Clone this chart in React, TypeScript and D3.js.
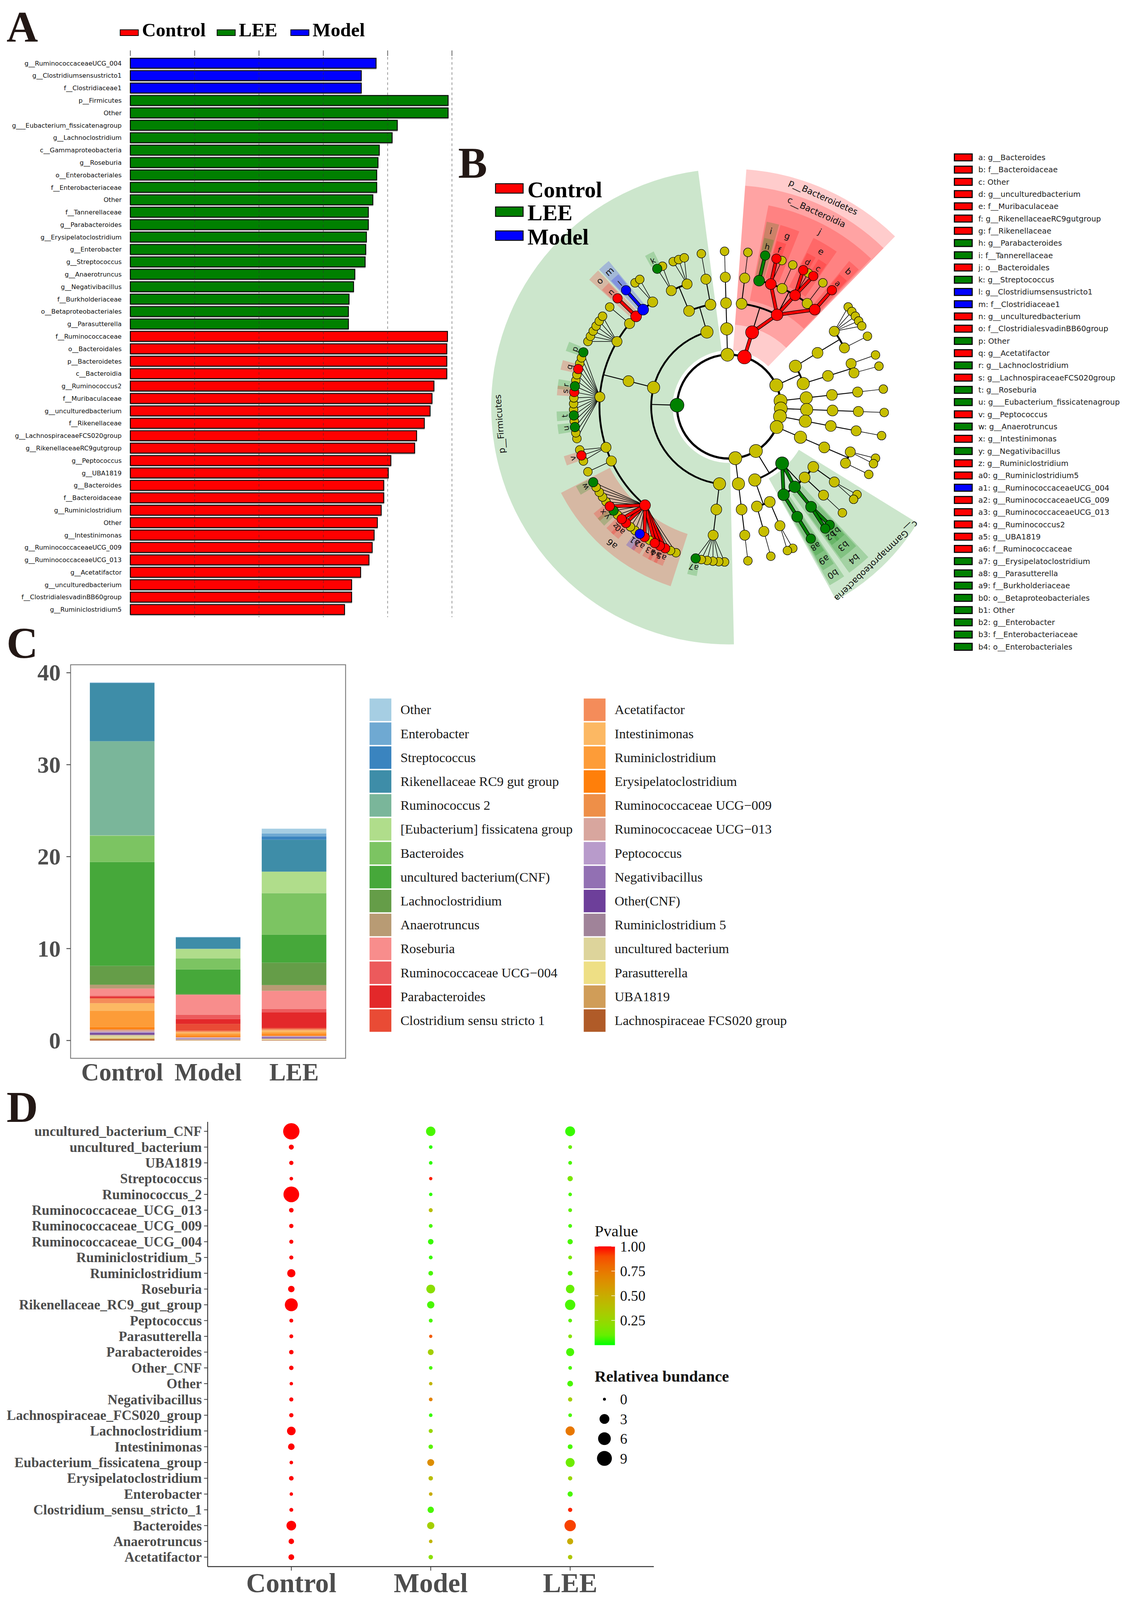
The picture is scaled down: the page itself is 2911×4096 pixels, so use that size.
import { useEffect, useRef } from "react"
import * as d3 from "d3"

const SERIF = "'Liberation Serif', 'Times New Roman', serif"
const SANS = "'DejaVu Sans', Verdana, sans-serif"
const INK = "#231815"

const groupNames = ["Control", "LEE", "Model"]
const groupColors = ["#FF0000", "#008000", "#0000FF"]
const colorOf = (g: string) => groupColors[groupNames.indexOf(g)]

// ---------- A: LDA bars ----------
const ldaTaxa = [
  "g__RuminococcaceaeUCG_004", "g__Clostridiumsensustricto1", "f__Clostridiaceae1",
  "p__Firmicutes", "Other", "g___Eubacterium_fissicatenagroup", "g__Lachnoclostridium",
  "c__Gammaproteobacteria", "g__Roseburia", "o__Enterobacteriales", "f__Enterobacteriaceae",
  "Other", "f__Tannerellaceae", "g__Parabacteroides", "g__Erysipelatoclostridium",
  "g__Enterobacter", "g__Streptococcus", "g__Anaerotruncus", "g__Negativibacillus",
  "f__Burkholderiaceae", "o__Betaproteobacteriales", "g__Parasutterella",
  "f__Ruminococcaceae", "o__Bacteroidales", "p__Bacteroidetes", "c__Bacteroidia",
  "g__Ruminococcus2", "f__Muribaculaceae", "g__unculturedbacterium", "f__Rikenellaceae",
  "g__LachnospiraceaeFCS020group", "g__RikenellaceaeRC9gutgroup", "g__Peptococcus",
  "g__UBA1819", "g__Bacteroides", "f__Bacteroidaceae", "g__Ruminiclostridium", "Other",
  "g__Intestinimonas", "g__RuminococcaceaeUCG_009", "g__RuminococcaceaeUCG_013",
  "g__Acetatifactor", "g__unculturedbacterium", "f__ClostridialesvadinBB60group",
  "g__Ruminiclostridium5",
]
const ldaScore = [
  3.82, 3.59, 3.59,
  4.94, 4.94, 4.15, 4.07, 3.87, 3.85, 3.83, 3.83, 3.77, 3.70, 3.70, 3.67, 3.66, 3.65, 3.49, 3.47, 3.40, 3.39, 3.39,
  4.93, 4.92, 4.92, 4.92, 4.72, 4.69, 4.66, 4.57, 4.45, 4.42, 4.05, 4.01, 3.94, 3.94, 3.90, 3.84, 3.79, 3.76, 3.71,
  3.58, 3.44, 3.44, 3.33,
]
const ldaGroup = [
  "Model", "Model", "Model",
  "LEE", "LEE", "LEE", "LEE", "LEE", "LEE", "LEE", "LEE", "LEE", "LEE", "LEE", "LEE", "LEE", "LEE", "LEE", "LEE",
  "LEE", "LEE", "LEE",
  "Control", "Control", "Control", "Control", "Control", "Control", "Control", "Control", "Control", "Control",
  "Control", "Control", "Control", "Control", "Control", "Control", "Control", "Control", "Control", "Control",
  "Control", "Control", "Control",
]
const ldaTicks = [0, 1, 2, 3, 4, 5]

// ---------- B: cladogram ----------
const cladeFamilies: [string, string[]][] = [
  ["p__Bacteroidetes|c__Bacteroidia|o_b1|f_b1", ["g_b1"]],
  ["p__Bacteroidetes|c__Bacteroidia|o__Bacteroidales|f__Tannerellaceae", ["g__Parabacteroides"]],
  ["p__Bacteroidetes|c__Bacteroidia|o__Bacteroidales|f__Rikenellaceae", ["g__RikenellaceaeRC9gutgroup", "g_b2"]],
  ["p__Bacteroidetes|c__Bacteroidia|o__Bacteroidales|f_b3", ["g_b3"]],
  ["p__Bacteroidetes|c__Bacteroidia|o__Bacteroidales|f__Muribaculaceae", ["g__unculturedbacterium@e", "g_b5", "Other@c"]],
  ["p__Bacteroidetes|c__Bacteroidia|o__Bacteroidales|f_b4", ["g_b4"]],
  ["p__Bacteroidetes|c__Bacteroidia|o__Bacteroidales|f__Bacteroidaceae", ["g__Bacteroides"]],
  ["p_r1|c_r1|o_r1|f_r1", ["g_r1a", "g_r1b", "g_r1c", "g_r1d", "g_r1e"]],
  ["p_r1|c_r1|o_r1|f_r2", ["g_r2"]],
  ["p_r1|c_r2|o_r2|f_r3", ["g_r3"]],
  ["p_r1|c_r2|o_r2|f_r4", ["g_r4"]],
  ["p_r2|c_r5|o_r5|f_r5", ["g_r5"]],
  ["p_r3|c_r6|o_r6|f_r6", ["g_r6"]],
  ["p_r4|c_r7|o_r7|f_r7", ["g_r7"]],
  ["p_r5|c_r8|o_r8|f_r8", ["g_r8a", "g_r8b"]],
  ["p_r5|c_r8|o_r8|f_r9", ["g_r9"]],
  ["p_pr|c__Gammaproteobacteria|o_pr1|f_pr1", ["g_pr1a", "g_pr1b"]],
  ["p_pr|c__Gammaproteobacteria|o_pr2|f_pr2", ["g_pr2"]],
  ["p_pr|c__Gammaproteobacteria|o__Enterobacteriales|f__Enterobacteriaceae", ["Other@b1", "g__Enterobacter"]],
  ["p_pr|c__Gammaproteobacteria|o__Betaproteobacteriales|f__Burkholderiaceae", ["g__Parasutterella"]],
  ["p_pr|c_pr3|o_pr3|f_pr3", ["g_pr3a", "g_pr3b"]],
  ["p_pr|c_pr3|o_pr4|f_pr4", ["g_pr4"]],
  ["p_x2|c_x2|o_x2|f_x2", ["g_x2"]],
  ["p__Firmicutes|c_e|o_e|f_e", ["g_e1", "g_e2", "g_e3", "g_e4", "g_e5", "g__Erysipelatoclostridium"]],
  ["p__Firmicutes|c_cl|o_cl|f__Ruminococcaceae", [
    "g_ru1", "g_ru2", "g__UBA1819", "g__Ruminococcus2", "g__RuminococcaceaeUCG_013", "g_ru3",
    "g__RuminococcaceaeUCG_009", "g__RuminococcaceaeUCG_004", "g_ru4", "g_ru5", "g__Ruminiclostridium5",
    "g__Ruminiclostridium", "g_ru6", "g__Negativibacillus", "g__Intestinimonas", "g_ru7", "g_ru8", "g_ru9",
    "g_ru10", "g__Anaerotruncus"]],
  ["p__Firmicutes|c_cl|o_cl|f_c1", ["g_c1"]],
  ["p__Firmicutes|c_cl|o_cl|f_pep", ["g_p1", "g__Peptococcus", "g_p2"]],
  ["p__Firmicutes|c_cl|o_cl|f__Lachnospiraceae", [
    "g_la1", "g_la2", "g___Eubacterium_fissicatenagroup", "g_la3", "g__Roseburia", "g_la4", "g_la5", "g_la6",
    "g__LachnospiraceaeFCS020group", "g__Lachnoclostridium", "g_la7", "g_la8", "g__Acetatifactor", "g_la9",
    "g_la10", "Other@p"]],
  ["p__Firmicutes|c_cl|o_cl|f_c2", ["g_c2a", "g_c2b", "g_c2c", "g_c2d", "g_c2e", "g_c2f"]],
  ["p__Firmicutes|c_cl|o_cl|f_c3", ["g_c3"]],
  ["p__Firmicutes|c_cl|o_cl|f__ClostridialesvadinBB60group", ["g__unculturedbacterium@o"]],
  ["p__Firmicutes|c_cl|o_cl|f__Clostridiaceae1", ["g__Clostridiumsensustricto1"]],
  ["p__Firmicutes|c_cl|o_cl|f_c4", ["g_c4a", "g_c4b"]],
  ["p__Firmicutes|c_ba|o_ba1|f_ba1", ["g__Streptococcus", "g_s2"]],
  ["p__Firmicutes|c_ba|o_ba1|f_ba2", ["g_s3", "g_s4", "g_s5"]],
  ["p__Firmicutes|c_ba|o_ba2|f_ba3", ["g_s6"]],
  ["p_x1|c_x1|o_x1|f_x1", ["g_x1"]],
]
const cladeLetter = [
  "a", "b", "c", "d", "e", "f", "g", "h", "i", "j", "k", "l", "m", "n", "o", "p", "q", "r", "s", "t", "u", "v",
  "w", "x", "y", "z", "a0", "a1", "a2", "a3", "a4", "a5", "a6", "a7", "a8", "a9", "b0", "b1", "b2", "b3", "b4",
]
const cladeTaxon = [
  "g__Bacteroides", "f__Bacteroidaceae", "Other", "g__unculturedbacterium", "f__Muribaculaceae",
  "g__RikenellaceaeRC9gutgroup", "f__Rikenellaceae", "g__Parabacteroides", "f__Tannerellaceae",
  "o__Bacteroidales", "g__Streptococcus", "g__Clostridiumsensustricto1", "f__Clostridiaceae1",
  "g__unculturedbacterium", "f__ClostridialesvadinBB60group", "Other", "g__Acetatifactor",
  "g__Lachnoclostridium", "g__LachnospiraceaeFCS020group", "g__Roseburia", "g___Eubacterium_fissicatenagroup",
  "g__Peptococcus", "g__Anaerotruncus", "g__Intestinimonas", "g__Negativibacillus", "g__Ruminiclostridium",
  "g__Ruminiclostridium5", "g__RuminococcaceaeUCG_004", "g__RuminococcaceaeUCG_009",
  "g__RuminococcaceaeUCG_013", "g__Ruminococcus2", "g__UBA1819", "f__Ruminococcaceae",
  "g__Erysipelatoclostridium", "g__Parasutterella", "f__Burkholderiaceae", "o__Betaproteobacteriales",
  "Other", "g__Enterobacter", "f__Enterobacteriaceae", "o__Enterobacteriales",
]
const cladeNode = [
  "g__Bacteroides", "f__Bacteroidaceae", "Other@c", "g__unculturedbacterium@e", "f__Muribaculaceae",
  "g__RikenellaceaeRC9gutgroup", "f__Rikenellaceae", "g__Parabacteroides", "f__Tannerellaceae",
  "o__Bacteroidales", "g__Streptococcus", "g__Clostridiumsensustricto1", "f__Clostridiaceae1",
  "g__unculturedbacterium@o", "f__ClostridialesvadinBB60group", "Other@p", "g__Acetatifactor",
  "g__Lachnoclostridium", "g__LachnospiraceaeFCS020group", "g__Roseburia", "g___Eubacterium_fissicatenagroup",
  "g__Peptococcus", "g__Anaerotruncus", "g__Intestinimonas", "g__Negativibacillus", "g__Ruminiclostridium",
  "g__Ruminiclostridium5", "g__RuminococcaceaeUCG_004", "g__RuminococcaceaeUCG_009",
  "g__RuminococcaceaeUCG_013", "g__Ruminococcus2", "g__UBA1819", "f__Ruminococcaceae",
  "g__Erysipelatoclostridium", "g__Parasutterella", "f__Burkholderiaceae", "o__Betaproteobacteriales",
  "Other@b1", "g__Enterobacter", "f__Enterobacteriaceae", "o__Enterobacteriales",
]
const cladeGroup = [
  "Control", "Control", "Control", "Control", "Control", "Control", "Control", "LEE", "LEE", "Control",
  "LEE", "Model", "Model", "Control", "Control", "LEE", "Control", "LEE", "Control", "LEE", "LEE",
  "Control", "LEE", "Control", "LEE", "Control", "Control", "Model", "Control", "Control", "Control",
  "Control", "Control", "LEE", "LEE", "LEE", "LEE", "LEE", "LEE", "LEE", "LEE",
]
const namedClade = ["p__Firmicutes", "p__Bacteroidetes", "c__Bacteroidia", "c__Gammaproteobacteria"]
const namedGroup = ["LEE", "Control", "Control", "LEE"]

// ---------- C: stacked bars ----------
const genusNames = [
  "Other", "Enterobacter", "Streptococcus", "Rikenellaceae RC9 gut group", "Ruminococcus 2",
  "[Eubacterium] fissicatena group", "Bacteroides", "uncultured bacterium(CNF)", "Lachnoclostridium",
  "Anaerotruncus", "Roseburia", "Ruminococcaceae UCG\u2212004", "Parabacteroides", "Clostridium sensu stricto 1",
  "Acetatifactor", "Intestinimonas", "Ruminiclostridium", "Erysipelatoclostridium", "Ruminococcaceae UCG\u2212009",
  "Ruminococcaceae UCG\u2212013", "Peptococcus", "Negativibacillus", "Other(CNF)", "Ruminiclostridium 5",
  "uncultured bacterium", "Parasutterella", "UBA1819", "Lachnospiraceae FCS020 group",
]
const genusColors = [
  "#A6CEE3", "#6FA9D2", "#3A84BF", "#3E8DA8", "#7AB69A", "#B0DD8B", "#7CC462", "#46A83A", "#659D48",
  "#B89B74", "#F88D8C", "#EC5A5C", "#E3282A", "#E94B35", "#F48C5A", "#FCB863", "#FD9C38", "#FF7F0A",
  "#EE8F48", "#D8A69E", "#B89BCB", "#9270B3", "#6D3F9A", "#A08399", "#DDD49B", "#EEDF85", "#D09D58", "#B05B28",
]
const abundControl = [
  0.02, 0.02, 0.03, 6.33, 10.24, 0.03, 2.86, 11.3, 2.05, 0.42, 0.78, 0.09, 0.15, 0.06, 0.51, 0.84, 1.78, 0.18,
  0.12, 0.18, 0.06, 0.09, 0.15, 0.09, 0.27, 0.06, 0.12, 0.12,
]
const abundModel = [
  0.02, 0.03, 0.01, 1.23, 0.02, 1.02, 1.2, 2.65, 0.09, 0.03, 2.17, 0.45, 0.54, 0.75, 0.15, 0.15, 0.2, 0.15,
  0.05, 0.08, 0.06, 0.04, 0.03, 0.05, 0.03, 0.01, 0.03, 0.03,
]
const abundLEE = [
  0.51, 0.33, 0.36, 3.46, 0.03, 2.32, 4.52, 3.04, 2.44, 0.63, 1.96, 0.36, 1.69, 0.12, 0.15, 0.24, 0.21, 0.12,
  0.05, 0.05, 0.05, 0.12, 0.04, 0.05, 0.05, 0.05, 0.05, 0.04,
]
const barGroups = ["Control", "Model", "LEE"]
const abundTicks = [0, 10, 20, 30, 40]

// ---------- D: dot plot ----------
const dotTaxa = [
  "uncultured_bacterium_CNF", "uncultured_bacterium", "UBA1819", "Streptococcus", "Ruminococcus_2",
  "Ruminococcaceae_UCG_013", "Ruminococcaceae_UCG_009", "Ruminococcaceae_UCG_004", "Ruminiclostridium_5",
  "Ruminiclostridium", "Roseburia", "Rikenellaceae_RC9_gut_group", "Peptococcus", "Parasutterella",
  "Parabacteroides", "Other_CNF", "Other", "Negativibacillus", "Lachnospiraceae_FCS020_group",
  "Lachnoclostridium", "Intestinimonas", "Eubacterium_fissicatena_group", "Erysipelatoclostridium",
  "Enterobacter", "Clostridium_sensu_stricto_1", "Bacteroides", "Anaerotruncus", "Acetatifactor",
]
const dotGenusIndex = [7, 24, 26, 2, 4, 19, 18, 11, 23, 16, 10, 3, 20, 25, 12, 22, 0, 21, 27, 8, 15, 5, 17, 1, 13, 6, 9, 14]
const pControl = [1, 1, 1, 1, 1, 1, 1, 1, 1, 1, 1, 1, 1, 1, 1, 1, 1, 1, 1, 1, 1, 1, 1, 1, 1, 1, 1, 1]
const pModel = [
  0.05, 0.02, 0.02, 0.98, 0.02, 0.4, 0.05, 0.03, 0.03, 0.05, 0.2, 0.05, 0.05, 0.85, 0.3, 0.05, 0.45, 0.7, 0.03,
  0.25, 0.08, 0.65, 0.4, 0.5, 0.05, 0.3, 0.45, 0.2,
]
const pLEE = [
  0.03, 0.1, 0.05, 0.15, 0.05, 0.08, 0.05, 0.05, 0.15, 0.08, 0.1, 0.05, 0.08, 0.18, 0.05, 0.05, 0.05, 0.3, 0.05,
  0.75, 0.05, 0.12, 0.25, 0.05, 0.97, 0.92, 0.5, 0.35,
]
const pTicks = [0.25, 0.5, 0.75, 1]
const sizeBreaks = [0, 3, 6, 9]

type Sel = d3.Selection<any, any, any, any>

function panelLetter(svg: Sel, t: string, x: number, y: number) {
  svg.append("text").attr("x", x).attr("y", y).attr("font-family", SERIF).attr("font-weight", "bold")
    .attr("font-size", 120).attr("fill", INK).text(t)
}

function drawLda(svg: Sel) {
  const g = svg.append("g")
  const x = d3.scaleLinear().domain([0, 5]).range([359, 1245])
  const y = d3.scaleBand<number>().domain(d3.range(ldaTaxa.length)).range([157, 1696])
    .paddingInner(0.2).paddingOuter(0.1)

  g.selectAll(".tk").data(ldaTicks).join("line").attr("class", "tk")
    .attr("x1", d => x(d)).attr("x2", d => x(d)).attr("y1", 139).attr("y2", 154)
    .attr("stroke", "#555").attr("stroke-width", 2)

  g.selectAll(".sh").data(ldaScore).join("rect").attr("class", "sh")
    .attr("x", x(0)).attr("y", (_, i) => (y(i) as number) + y.bandwidth() - 1)
    .attr("width", d => x(d) - x(0) + 1).attr("height", 5).attr("fill", "#c4c4c4")

  g.selectAll(".bar").data(ldaScore).join("rect").attr("class", "bar")
    .attr("x", x(0)).attr("y", (_, i) => y(i) as number)
    .attr("width", d => x(d) - x(0)).attr("height", y.bandwidth())
    .attr("fill", (_, i) => colorOf(ldaGroup[i])).attr("stroke", "#000").attr("stroke-width", 2.5)

  g.selectAll(".grid").data(ldaTicks.slice(1)).join("line").attr("class", "grid")
    .attr("x1", d => x(d)).attr("x2", d => x(d)).attr("y1", 157).attr("y2", 1700)
    .attr("stroke", "#333").attr("stroke-opacity", 0.65).attr("stroke-width", 1.6)
    .attr("stroke-dasharray", "7,7")

  g.selectAll(".lbl").data(ldaTaxa).join("text").attr("class", "lbl")
    .attr("x", 335).attr("y", (_, i) => (y(i) as number) + y.bandwidth() / 2).attr("dy", "0.36em")
    .attr("text-anchor", "end").attr("font-family", SANS).attr("font-size", 17.5).attr("fill", "#111")
    .text(d => d)

  const legX = [331, 598, 801]
  groupNames.forEach((n, i) => {
    g.append("rect").attr("x", legX[i]).attr("y", 82).attr("width", 50).attr("height", 16)
      .attr("fill", groupColors[i]).attr("stroke", "#000").attr("stroke-width", 2)
    g.append("text").attr("x", legX[i] + 60).attr("y", 100).attr("font-family", SERIF)
      .attr("font-weight", "bold").attr("font-size", 53).attr("fill", "#000").text(n)
  })
  panelLetter(svg, "A", 18, 115)
}

function buildTree(families: [string, string[]][]) {
  const root: any = { name: "root", children: [] }
  for (const [path, genera] of families) {
    let node = root
    for (const seg of path.split("|")) {
      let ch = node.children.find((c: any) => c.name === seg)
      if (!ch) { ch = { name: seg, children: [] }; node.children.push(ch) }
      node = ch
    }
    for (const gname of genera) node.children.push({ name: gname, children: [] })
  }
  return root
}

function drawCladogram(svg: Sel) {
  const cx = 2008, cy = 1120
  const g = svg.append("g").attr("transform", `translate(${cx},${cy})`)
  const root: any = d3.hierarchy(buildTree(cladeFamilies))
  const lcaDepth = (a: any, b: any) => {
    const anc = new Set(a.ancestors())
    let n = b
    while (!anc.has(n)) n = n.parent
    return n.depth
  }
  const sepByDepth = [4, 3.5, 3, 2, 1]
  d3.cluster().nodeSize([1, 1]).separation((a, b) => sepByDepth[lcaDepth(a, b)])(root)
  const leaves = root.leaves()
  const xMin = leaves[0].x, xMax = leaves[leaves.length - 1].x
  const angle = d3.scaleLinear().domain([xMin, xMax + sepByDepth[0]]).range([7, 367])
  const unitDeg = angle(xMin + 1) - angle(xMin)
  const radius = d3.scaleLinear().domain([1, 5]).range([143, 428])
  const rad = (deg: number) => (deg * Math.PI) / 180
  const pt = (deg: number, r: number) => d3.pointRadial(rad(deg), r)
  const deg = (n: any) => angle(n.x)
  const nodeById = new Map<string, any>()
  root.descendants().forEach((n: any) => nodeById.set(n.data.name, n))

  const markers: { node: any; group: string; label: string }[] = []
  cladeNode.forEach((id, i) => markers.push({ node: nodeById.get(id), group: cladeGroup[i], label: cladeLetter[i] }))
  namedClade.forEach((id, i) => markers.push({ node: nodeById.get(id), group: namedGroup[i], label: id }))
  markers.sort((a, b) => a.node.depth - b.node.depth)
  const markerOf = new Map<any, string>()
  markers.forEach(m => markerOf.set(m.node, m.group))

  const outerR = [0, 655, 610, 565, 520, 475]
  const labelR = [0, 633, 588, 543, 497, 453]
  const padUnits = [0, 1.3, 1.3, 1.1, 0.9, 0.75]
  const wedge = d3.arc<any>()

  markers.forEach(m => {
    const lv = m.node.leaves()
    const pad = padUnits[m.node.depth] * unitDeg
    const a0 = deg(lv[0]) - pad, a1 = deg(lv[lv.length - 1]) + pad
    g.append("path")
      .attr("d", wedge({ innerRadius: radius(m.node.depth) + 12, outerRadius: outerR[m.node.depth], startAngle: rad(a0), endAngle: rad(a1) }))
      .attr("fill", colorOf(m.group)).attr("fill-opacity", 0.2)
  })
  markers.forEach(m => {
    const lv = m.node.leaves()
    const mid = (deg(lv[0]) + deg(lv[lv.length - 1])) / 2
    const [px, py] = pt(mid, labelR[m.node.depth])
    g.append("text").attr("transform", `translate(${px},${py}) rotate(${mid})`)
      .attr("text-anchor", "middle").attr("dy", "0.35em").attr("font-family", SANS)
      .attr("font-size", m.node.depth === 5 ? 22 : 24).attr("fill", "#111").text(m.label)
  })

  // branches
  g.append("circle").attr("r", radius(1)).attr("fill", "none").attr("stroke", "#000").attr("stroke-width", 6)
  root.descendants().forEach((n: any) => {
    if (!n.children || n.depth === 0) return
    const [nx, ny] = pt(deg(n), radius(n.depth))
    if (n.depth === 4) {
      n.children.forEach((c: any) => {
        const [qx, qy] = pt(deg(c), radius(c.depth))
        g.append("line").attr("x1", nx).attr("y1", ny).attr("x2", qx).attr("y2", qy)
          .attr("stroke", "#000").attr("stroke-width", 1.6)
      })
    } else {
      const cr = radius(n.depth + 1)
      const angs = n.children.map((c: any) => deg(c))
      const lo = d3.min(angs) as number, hi = d3.max(angs) as number
      if (hi - lo > 0.01) {
        const p = d3.path()
        p.arc(0, 0, cr, rad(lo) - Math.PI / 2, rad(hi) - Math.PI / 2)
        g.append("path").attr("d", p.toString()).attr("fill", "none").attr("stroke", "#000").attr("stroke-width", 5)
      }
      const [ex, ey] = pt(deg(n), cr)
      g.append("line").attr("x1", nx).attr("y1", ny).attr("x2", ex).attr("y2", ey)
        .attr("stroke", "#000").attr("stroke-width", 2.5)
    }
  })
  // coloured branches between biomarkers of the same group
  root.descendants().forEach((n: any) => {
    if (!n.parent || n.parent.depth === 0) return
    const gc = markerOf.get(n), gp = markerOf.get(n.parent)
    if (!gc || gc !== gp) return
    const [ax, ay] = pt(deg(n.parent), radius(n.parent.depth))
    const [bx, by] = pt(deg(n), radius(n.depth))
    g.append("line").attr("x1", ax).attr("y1", ay).attr("x2", bx).attr("y2", by)
      .attr("stroke", "#000").attr("stroke-width", 10).attr("stroke-linecap", "round")
    g.append("line").attr("x1", ax).attr("y1", ay).attr("x2", bx).attr("y2", by)
      .attr("stroke", colorOf(gc)).attr("stroke-width", 7).attr("stroke-linecap", "round")
  })
  const nodeR = [0, 18, 17, 15, 14, 12]
  const nodes = root.descendants().filter((n: any) => n.depth > 0)
  nodes.sort((a: any, b: any) => (markerOf.has(a) ? 1 : 0) - (markerOf.has(b) ? 1 : 0))
  nodes.forEach((n: any) => {
    const [px, py] = pt(deg(n), radius(n.depth))
    const gm = markerOf.get(n)
    g.append("circle").attr("cx", px).attr("cy", py).attr("r", nodeR[n.depth] + (gm ? 1 : 0))
      .attr("fill", gm ? colorOf(gm) : "#C7BE00").attr("stroke", "#000").attr("stroke-width", 1.3)
  })

  // group legend (top-left)
  const lg = [543, 607, 673]
  groupNames.forEach((n, i) => {
    svg.append("rect").attr("x", 1365).attr("y", lg[i] - 37).attr("width", 76).attr("height", 26)
      .attr("fill", groupColors[i]).attr("stroke", "#000").attr("stroke-width", 2.5)
    svg.append("text").attr("x", 1453).attr("y", lg[i]).attr("font-family", SERIF).attr("font-weight", "bold")
      .attr("font-size", 62).attr("fill", "#000").text(n)
  })
  // letter legend (right)
  const ly = d3.scaleLinear().domain([0, cladeLetter.length - 1]).range([433.5, 1781.5])
  cladeLetter.forEach((l, i) => {
    svg.append("rect").attr("x", 2629).attr("y", ly(i) - 9.5).attr("width", 49).attr("height", 19)
      .attr("fill", colorOf(cladeGroup[i])).attr("stroke", "#000").attr("stroke-width", 3)
    svg.append("text").attr("x", 2695).attr("y", ly(i)).attr("dy", "0.36em").attr("font-family", SANS)
      .attr("font-size", 21).attr("fill", "#222").text(`${l}: ${cladeTaxon[i]}`)
  })
  panelLetter(svg, "B", 1262, 490)
}

function drawStack(svg: Sel) {
  const g = svg.append("g")
  const x = d3.scalePoint<string>().domain(barGroups).range([194.5, 952]).padding(0.6)
  const y = d3.scaleLinear().domain([0, 40]).range([2866, 1853])
  const bw = 178
  const tables = [abundControl, abundModel, abundLEE]
  const rows = barGroups.map((grp, i) => ({ grp, vals: tables[i] }))
  const keys = d3.range(genusNames.length).reverse()
  const series = d3.stack<any, number>().keys(keys).value((d, k) => d.vals[k])(rows)
  series.forEach(s => {
    g.selectAll(null).data(s).join("rect")
      .attr("x", d => (x(d.data.grp) as number) - bw / 2).attr("width", bw)
      .attr("y", d => y(d[1])).attr("height", d => Math.max(0, y(d[0]) - y(d[1])))
      .attr("fill", genusColors[s.key as number])
  })
  g.append("rect").attr("x", 194.5).attr("y", 1831).attr("width", 757.5).attr("height", 1084)
    .attr("fill", "none").attr("stroke", "#7F7F7F").attr("stroke-width", 2.5)
  g.selectAll(".yt").data(abundTicks).join("line").attr("class", "yt")
    .attr("x1", 183).attr("x2", 194.5).attr("y1", d => y(d)).attr("y2", d => y(d))
    .attr("stroke", "#4D4D4D").attr("stroke-width", 2.5)
  g.selectAll(".yl").data(abundTicks).join("text").attr("class", "yl")
    .attr("x", 167).attr("y", d => y(d)).attr("dy", "0.34em").attr("text-anchor", "end")
    .attr("font-family", SERIF).attr("font-weight", "bold").attr("font-size", 64).attr("fill", "#4D4D4D")
    .text(d => d)
  g.selectAll(".xl").data(barGroups).join("text").attr("class", "xl")
    .attr("x", d => x(d) as number).attr("y", 2976).attr("text-anchor", "middle")
    .attr("font-family", SERIF).attr("font-weight", "bold").attr("font-size", 68).attr("fill", "#4D4D4D")
    .text(d => d)

  const rowY = d3.scaleLinear().domain([0, 13]).range([1955, 2811])
  genusNames.forEach((n, i) => {
    const col = Math.floor(i / 14), row = i % 14
    const sx = col ? 1608 : 1018
    g.append("rect").attr("x", sx).attr("y", rowY(row) - 31).attr("width", 60).attr("height", 62)
      .attr("fill", genusColors[i])
    g.append("text").attr("x", sx + 85).attr("y", rowY(row)).attr("dy", "0.33em")
      .attr("font-family", SERIF).attr("font-size", 37).attr("fill", "#1a1a1a").text(n)
  })
  panelLetter(svg, "C", 18, 1812)
}

function drawDots(svg: Sel) {
  const g = svg.append("g")
  const x = d3.scalePoint<string>().domain(barGroups).range([572, 1801]).padding(0.6)
  const y = d3.scalePoint<string>().domain(dotTaxa).range([3090, 4315]).padding(0.6)
  const r = d3.scaleSqrt().domain([0, 11.3]).range([4, 22.5])
  const pColor = d3.scaleLinear<string>().domain([0, 1]).range(["#00FF00", "#FF0000"]).interpolate(d3.interpolateLab)
  const tables = [abundControl, abundModel, abundLEE]
  const pTables = [pControl, pModel, pLEE]

  g.append("line").attr("x1", 572).attr("x2", 572).attr("y1", 3090).attr("y2", 4315)
    .attr("stroke", "#333").attr("stroke-width", 2.5)
  g.append("line").attr("x1", 572).attr("x2", 1801).attr("y1", 4315).attr("y2", 4315)
    .attr("stroke", "#333").attr("stroke-width", 2.5)
  g.selectAll(".ytk").data(dotTaxa).join("line").attr("class", "ytk")
    .attr("x1", 562).attr("x2", 572).attr("y1", d => y(d) as number).attr("y2", d => y(d) as number)
    .attr("stroke", "#333").attr("stroke-width", 2)
  g.selectAll(".xtk").data(barGroups).join("line").attr("class", "xtk")
    .attr("x1", d => x(d) as number).attr("x2", d => x(d) as number).attr("y1", 4315).attr("y2", 4326)
    .attr("stroke", "#333").attr("stroke-width", 2)
  g.selectAll(".ylb").data(dotTaxa).join("text").attr("class", "ylb")
    .attr("x", 556).attr("y", d => y(d) as number).attr("dy", "0.34em").attr("text-anchor", "end")
    .attr("font-family", SERIF).attr("font-weight", "bold").attr("font-size", 38).attr("fill", "#4D4D4D")
    .text(d => d)
  g.selectAll(".xlb").data(barGroups).join("text").attr("class", "xlb")
    .attr("x", d => x(d) as number).attr("y", 4386).attr("text-anchor", "middle")
    .attr("font-family", SERIF).attr("font-weight", "bold").attr("font-size", 75).attr("fill", "#4D4D4D")
    .text(d => d)

  barGroups.forEach((grp, gi) => {
    dotTaxa.forEach((t, ti) => {
      g.append("circle").attr("cx", x(grp) as number).attr("cy", y(t) as number)
        .attr("r", r(tables[gi][dotGenusIndex[ti]])).attr("fill", pColor(pTables[gi][ti]))
    })
  })

  // colour bar legend
  const defs = svg.append("defs")
  const grad = defs.append("linearGradient").attr("id", "pgrad").attr("x1", 0).attr("x2", 0).attr("y1", 1).attr("y2", 0)
  d3.range(0, 1.0001, 0.1).forEach(t => grad.append("stop").attr("offset", t).attr("stop-color", pColor(t)))
  const py = d3.scaleLinear().domain([0, 1]).range([3705, 3433])
  g.append("text").attr("x", 1638).attr("y", 3405).attr("font-family", SERIF).attr("font-size", 44)
    .attr("fill", "#111").text("Pvalue")
  g.append("rect").attr("x", 1638).attr("y", py(1)).attr("width", 56).attr("height", py(0) - py(1))
    .attr("fill", "url(#pgrad)")
  pTicks.forEach(t => {
    g.append("line").attr("x1", 1638).attr("x2", 1648).attr("y1", py(t)).attr("y2", py(t)).attr("stroke", "#fff").attr("stroke-width", 1.5)
    g.append("line").attr("x1", 1684).attr("x2", 1694).attr("y1", py(t)).attr("y2", py(t)).attr("stroke", "#fff").attr("stroke-width", 1.5)
    g.append("text").attr("x", 1708).attr("y", py(t)).attr("dy", "0.35em").attr("font-family", SERIF)
      .attr("font-size", 40).attr("fill", "#111").text(t.toFixed(2))
  })
  // size legend
  g.append("text").attr("x", 1638).attr("y", 3806).attr("font-family", SERIF).attr("font-weight", "bold")
    .attr("font-size", 44).attr("fill", "#111").text("Relativea bundance")
  const sy = d3.scaleLinear().domain([0, 9]).range([3854, 4017])
  sizeBreaks.forEach(s => {
    g.append("circle").attr("cx", 1665).attr("cy", sy(s)).attr("r", r(s)).attr("fill", "#000")
    g.append("text").attr("x", 1708).attr("y", sy(s)).attr("dy", "0.35em").attr("font-family", SERIF)
      .attr("font-size", 40).attr("fill", "#111").text(s)
  })
  panelLetter(svg, "D", 18, 3090)
}

export default function App() {
  const svgRef = useRef<SVGSVGElement>(null)

  useEffect(() => {
    if (!svgRef.current) return
    const svg = d3.select(svgRef.current)
    svg.selectAll("*").remove()
    svg.append("rect").attr("width", 3132).attr("height", 4407).attr("fill", "#fff")
    drawLda(svg)
    drawCladogram(svg)
    drawStack(svg)
    drawDots(svg)
  }, [])

  return (
    <svg
      ref={svgRef}
      width={2911}
      height={4096}
      viewBox="0 0 3132 4407"
      style={{ position: "absolute", left: 0, top: 0, display: "block" }}
    />
  )
}
